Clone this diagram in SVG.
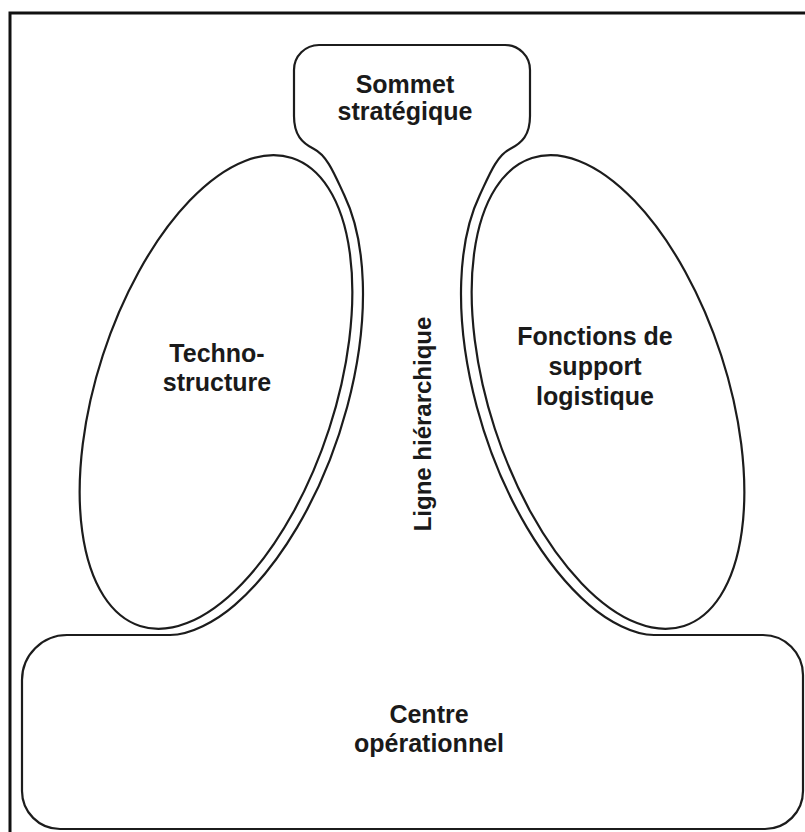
<svg xmlns="http://www.w3.org/2000/svg" width="805" height="832" viewBox="0 0 805 832">
  <style>
    .line { fill: none; stroke: #1c1c1c; stroke-width: 2.2; stroke-linejoin: round; }
    .frame { fill: none; stroke: #111; stroke-width: 3; }
    .label { font-family: "Liberation Sans", Arial, sans-serif; font-weight: bold; font-size: 25px; fill: #1a1a1a; text-anchor: middle; }
  </style>
  <rect width="805" height="832" fill="#fff"/>
  <rect class="frame" x="10" y="13" width="805" height="830"/>

  <!-- Single outline: strategic apex, middle line and operating core -->
  <g id="outline">
    <path class="line" d="M 319,45 H 505 A 25,25 0 0 1 530,70 V 116
      C 530,135 522,143 510,149
      C 496,156 488.4,177 479.8,195
      A 130,257 -18 0 0 589.4,605.1
      C 608.3,621.5 634,635 654,635
      H 763 A 40,40 0 0 1 803,675 V 791 A 38,38 0 0 1 765,829
      H 60 A 38,38 0 0 1 22,791 V 680 A 45,45 0 0 1 67,635
      H 170
      C 190,635 215.7,621.5 234.6,605.1
      A 130,257 18 0 0 344.2,195
      C 335.6,177 328,156 314,149
      C 302,143 294,135 294,116
      V 70 A 25,25 0 0 1 319,45 Z"/>
  </g>

  <g id="sommet-strategique">
    <text class="label" x="405" y="93">Sommet</text>
    <text class="label" x="405" y="120">stratégique</text>
  </g>

  <g id="technostructure">
    <ellipse class="line" cx="216" cy="392" rx="119" ry="246" transform="rotate(18 216 392)"/>
    <text class="label" x="217" y="362">Techno-</text>
    <text class="label" x="217" y="391">structure</text>
  </g>

  <g id="fonctions-support">
    <ellipse class="line" cx="608" cy="392" rx="119" ry="246" transform="rotate(-18 608 392)"/>
    <text class="label" x="595" y="345">Fonctions de</text>
    <text class="label" x="595" y="375">support</text>
    <text class="label" x="595" y="405">logistique</text>
  </g>

  <g id="ligne-hierarchique">
    <text class="label" style="font-size:24px" transform="translate(431,424) rotate(-90)">Ligne hiérarchique</text>
  </g>

  <g id="centre-operationnel">
    <text class="label" x="429" y="723">Centre</text>
    <text class="label" x="429" y="752">opérationnel</text>
  </g>
</svg>
